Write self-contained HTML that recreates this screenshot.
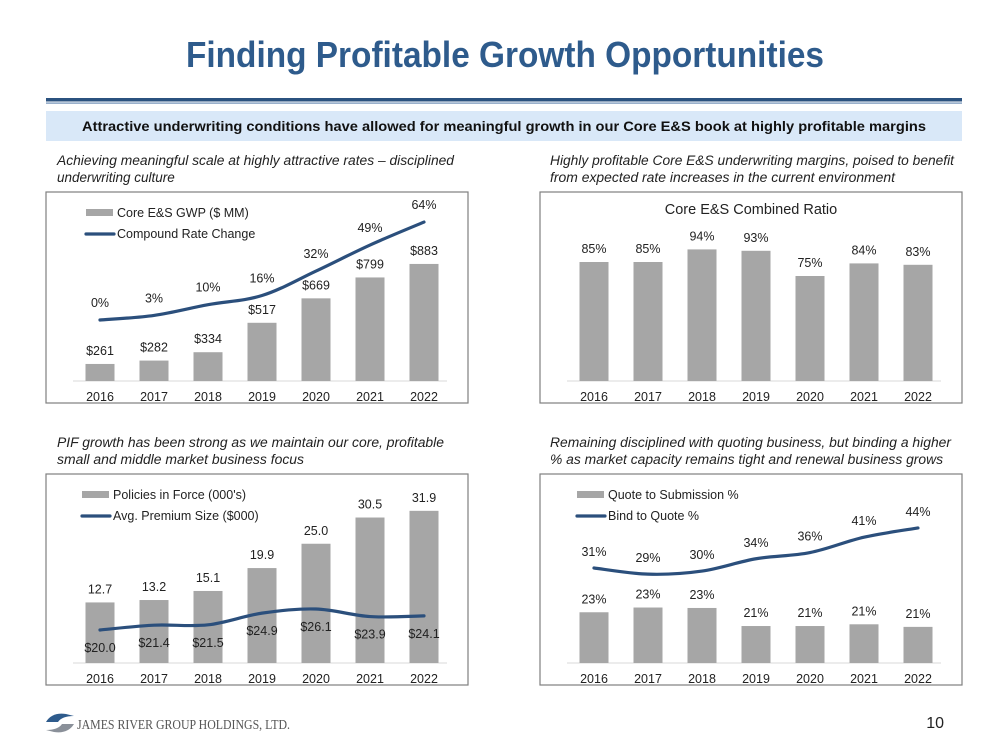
<!DOCTYPE html>
<html><head><meta charset="utf-8">
<style>
body{margin:0;background:#fff;}
svg{display:block;font-family:"Liberation Sans",Arial,sans-serif;}
</style></head>
<body>
<svg id="s" width="1008" height="756" viewBox="0 0 1008 756" xmlns="http://www.w3.org/2000/svg">
<text x="505" y="67" text-anchor="middle" font-size="36" font-weight="bold" fill="#2E5B8C" textLength="638" lengthAdjust="spacingAndGlyphs">Finding Profitable Growth Opportunities</text>
<rect x="46" y="98" width="916" height="3.5" fill="#2B527F"/>
<rect x="46" y="102.5" width="916" height="1.2" fill="#6E8FB5"/>
<rect x="46" y="111" width="916" height="30" fill="#D9E8F8"/>
<text x="504" y="131" text-anchor="middle" font-size="14" font-weight="bold" fill="#111" textLength="844" lengthAdjust="spacingAndGlyphs">Attractive underwriting conditions have allowed for meaningful growth in our Core E&amp;S book at highly profitable margins</text>
<g font-style="italic" font-size="13.5" fill="#222">
<text x="57" y="165" textLength="397" lengthAdjust="spacingAndGlyphs">Achieving meaningful scale at highly attractive rates – disciplined</text>
<text x="57" y="182">underwriting culture</text>
<text x="550" y="165" textLength="404" lengthAdjust="spacingAndGlyphs">Highly profitable Core E&amp;S underwriting margins, poised to benefit</text>
<text x="550" y="182" textLength="345" lengthAdjust="spacingAndGlyphs">from expected rate increases in the current environment</text>
<text x="57" y="447" textLength="387" lengthAdjust="spacingAndGlyphs">PIF growth has been strong as we maintain our core, profitable</text>
<text x="57" y="464" textLength="247" lengthAdjust="spacingAndGlyphs">small and middle market business focus</text>
<text x="550" y="447" textLength="401" lengthAdjust="spacingAndGlyphs">Remaining disciplined with quoting business, but binding a higher</text>
<text x="550" y="464" textLength="393" lengthAdjust="spacingAndGlyphs">% as market capacity remains tight and renewal business grows</text>
</g>
<g>
<path d="M46 722 Q52 712 66 714 L74 716 Q62 716 58 722 Z" fill="#2E5B8C"/>
<path d="M74 724 Q68 734 54 732 L46 730 Q58 730 62 724 Z" fill="#8A9099"/>
<text x="77" y="729" font-family="'Liberation Serif',serif" font-size="14" fill="#555" textLength="213" lengthAdjust="spacingAndGlyphs">JAMES RIVER GROUP HOLDINGS, LTD.</text>
</g>
<text x="944" y="728" text-anchor="end" font-size="16" fill="#222">10</text>
<g id="charts"></g>
</svg>
<script>
// Chart 1: Core E&S GWP and compound rate change
const years = ['2016','2017','2018','2019','2020','2021','2022'];
const gwpValues = [261, 282, 334, 517, 669, 799, 883];
const gwpLabels = ['$261','$282','$334','$517','$669','$799','$883'];
const rateValues = [0, 3, 10, 16, 32, 49, 64];
const rateLabels = ['0%','3%','10%','16%','32%','49%','64%'];
// Chart 2: Combined ratio
const ratioValues = [85, 85, 94, 93, 75, 84, 83];
const ratioLabels = ['85%','85%','94%','93%','75%','84%','83%'];
// Chart 3: Policies in force and avg premium
const pifValues = [12.7, 13.2, 15.1, 19.9, 25.0, 30.5, 31.9];
const pifLabels = ['12.7','13.2','15.1','19.9','25.0','30.5','31.9'];
const premValues = [20.0, 21.4, 21.5, 24.9, 26.1, 23.9, 24.1];
const premLabels = ['$20.0','$21.4','$21.5','$24.9','$26.1','$23.9','$24.1'];
// Chart 4: Quote to submission and bind to quote
const qtsValues = [22.9, 23.45, 23.4, 21.3, 21.3, 21.5, 21.2];
const qtsLabels = ['23%','23%','23%','21%','21%','21%','21%'];
const btqValues = [31, 29, 30, 34, 36, 41, 44];
const btqLabels = ['31%','29%','30%','34%','36%','41%','44%'];

const NS = 'http://www.w3.org/2000/svg';
const root = document.getElementById('charts');
function mk(tag, attrs, parent){const e=document.createElementNS(NS,tag);for(const k in attrs)e.setAttribute(k,attrs[k]);(parent||root).appendChild(e);return e;}
function txt(x,y,s,parent,size){const t=mk('text',{x:x,y:y,'text-anchor':'middle','font-size':size||12.5,fill:'#222'},parent);t.textContent=s;return t;}

function chart(cfg){
  const g=mk('g',{});
  
  
  const box=mk('rect',{x:cfg.x,y:cfg.y,width:422,height:211,fill:'#fff',stroke:'#7F7F7F','stroke-width':1.2},g);
  
  
  const base=cfg.y+189;
  const ax=mk('line',{x1:cfg.x+27,x2:cfg.x+401,y1:base,y2:base,stroke:'#D9D9D9','stroke-width':1},g);
  
  
  const xs=i=>cfg.x+54+i*54;
  const by=v=>base-(v-cfg.bMin)*cfg.bScale;
  years.forEach((yr,i)=>{
    const t=txt(xs(i),base+20,yr,g);
    
    
    const v=cfg.bars[i];
    const r=mk('rect',{x:xs(i)-14.5,y:by(v),width:29,height:base-by(v),fill:'#A6A6A6'},g);
    
    
    const l=txt(xs(i),by(v)-9,cfg.barLabels[i],g);
    
    
  });
  if(cfg.line){
    const ly=v=>cfg.lY0-(v-cfg.lMin)*cfg.lScale;
    const p=cfg.line.map((v,i)=>[xs(i),ly(v)]);
    let d='M'+p[0][0]+' '+p[0][1];
    for(let i=0;i<p.length-1;i++){
      const p0=p[Math.max(i-1,0)],p1=p[i],p2=p[i+1],p3=p[Math.min(i+2,p.length-1)];
      const t=0.17*6/6;
      const c1=[p1[0]+(p2[0]-p0[0])*t,p1[1]+(p2[1]-p0[1])*t];
      const c2=[p2[0]-(p3[0]-p1[0])*t,p2[1]-(p3[1]-p1[1])*t];
      d+=' C'+c1[0]+' '+c1[1]+' '+c2[0]+' '+c2[1]+' '+p2[0]+' '+p2[1];
    }
    const path=mk('path',{d:d,fill:'none',stroke:'#2B4F7C','stroke-width':3.2,'stroke-linecap':'round'},g);
    
    
    p.forEach((pt,i)=>{
      const t=txt(pt[0],pt[1]+cfg.lLabelOff,cfg.lineLabels[i],g);
      
      
    });
  }
  if(cfg.legend){
    const lx=cfg.x+cfg.legX;
    const lr=mk('rect',{x:lx,y:cfg.y+17,width:27,height:7,fill:'#A6A6A6'},g);
    
    
    const lt=mk('text',{x:lx+31,y:cfg.y+25,'font-size':12.5,fill:'#222'},g);lt.textContent=cfg.legend[0];
    
    
    const ll=mk('line',{x1:lx,x2:lx+28,y1:cfg.y+42,y2:cfg.y+42,stroke:'#2B4F7C','stroke-width':3.2,'stroke-linecap':'round'},g);
    
    
    const lt2=mk('text',{x:lx+31,y:cfg.y+46,'font-size':12.5,fill:'#222'},g);lt2.textContent=cfg.legend[1];
    
    
  }
  if(cfg.title){
    const tt=txt(cfg.x+211,cfg.y+22,cfg.title,g,14.5);
    
    
  }
}
chart({name:'gwp-chart',x:46,y:192,bars:gwpValues,barLabels:gwpLabels,bMin:155,bScale:0.1608,
  line:rateValues,lineLabels:rateLabels,lMin:0,lY0:320,lScale:1.53,lLabelOff:-13,legX:40,
  legend:['Core E&S GWP ($ MM)','Compound Rate Change']});
chart({name:'ratio-chart',x:540,y:192,bars:ratioValues,barLabels:ratioLabels,bMin:0,bScale:1.4,title:'Core E&S Combined Ratio'});
chart({name:'pif-chart',x:46,y:474,bars:pifValues,barLabels:pifLabels,bMin:0,bScale:4.77,
  line:premValues,lineLabels:premLabels,lMin:20,lY0:630,lScale:3.44,lLabelOff:22,legX:36,
  legend:["Policies in Force (000's)",'Avg. Premium Size ($000)']});
chart({name:'quote-chart',x:540,y:474,bars:qtsValues,barLabels:qtsLabels,bMin:17,bScale:8.6,
  line:btqValues,lineLabels:btqLabels,lMin:31,lY0:568,lScale:3.08,lLabelOff:-12,legX:37,
  legend:['Quote to Submission %','Bind to Quote %']});
</script>
</body></html>
